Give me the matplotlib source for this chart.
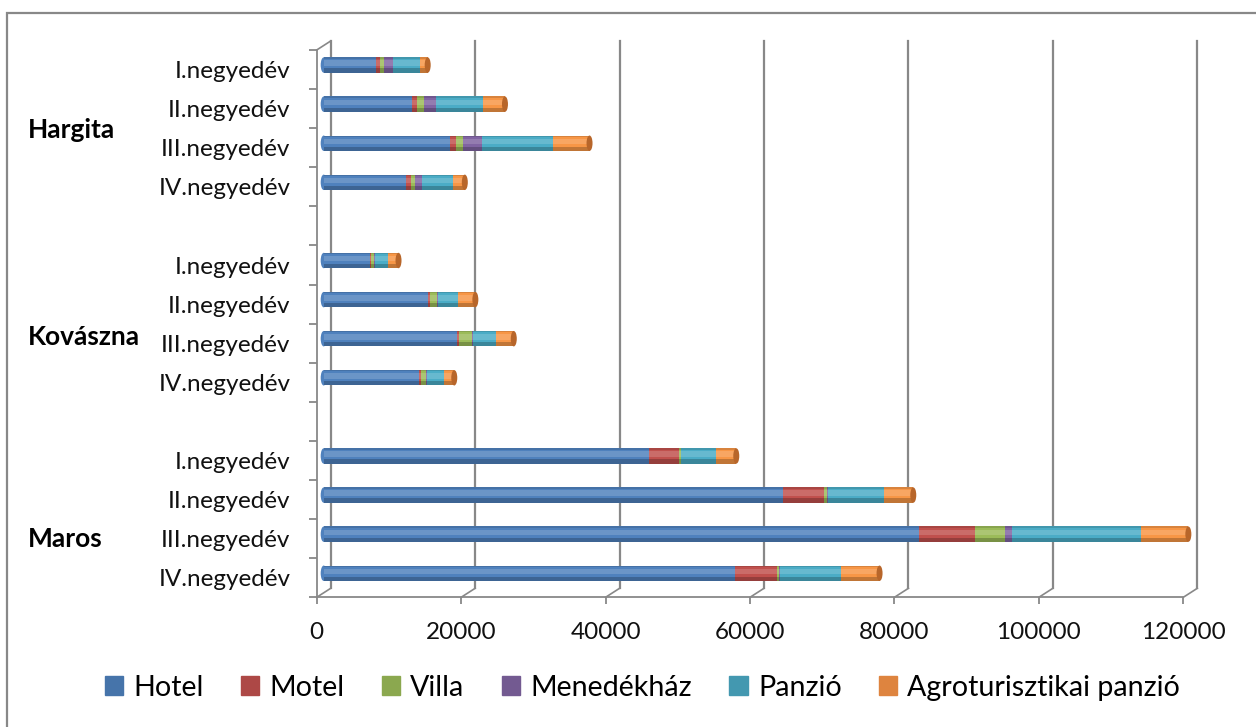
import matplotlib
matplotlib.use('Agg')
import matplotlib.pyplot as plt
import numpy as np
from matplotlib.transforms import ScaledTranslation, blended_transform_factory
from matplotlib.patches import Ellipse, Rectangle
from matplotlib.lines import Line2D

plt.rcParams['font.family'] = ['Lato', 'DejaVu Sans']

regions = ['Hargita', 'Kovászna', 'Maros']
quarters = ['I.negyedév', 'II.negyedév', 'III.negyedév', 'IV.negyedév']
series = ['Hotel', 'Motel', 'Villa', 'Menedékház', 'Panzió', 'Agroturisztikai panzió']
colors = ['#4F81BD', '#C0504D', '#9BBB59', '#8064A2', '#4BACC6', '#F79646']
legend_colors = ['#4674AA', '#AD4846', '#8BA84F', '#735A91', '#4398B0', '#DE843F']

# values in order: Hargita I-IV, Kovászna I-IV, Maros I-IV
hotel      = [7300, 12200, 17550, 11400,   6400, 14450, 18400, 13200,   45000, 63600, 82500, 57000]
motel      = [450,   780,   830,   650,     180,   320,   370,   230,    4240,  5710,  7650,  5760]
villa      = [550,   920,   920,   550,     410,   970,  1700,   780,     180,   370,  4150,   320]
menedekhaz = [1300, 1600,  2670,  1000,      60,   100,   230,    50,      60,   120,  1010,    60]
panzio     = [3800, 6600,  9770,  4330,    1840,  2720,  3090,  2440,    4790,  7830, 17880,  8530]
agro       = [1000, 3000,  5070,  1610,    1470,  2440,  2530,  1380,    2860,  4010,  6540,  5300]
xticks = [0, 20000, 40000, 60000, 80000, 100000, 120000]

data = [hotel, motel, villa, menedekhaz, panzio, agro]

W, H = 1256, 727
fig = plt.figure(figsize=(W / 100, H / 100), dpi=100)
ax = fig.add_axes([316.7 / W, (H - 597.3) / H, (1183.3 - 316.7) / W, (597.3 - 50) / H])
ax.set_xlim(0, 120000)
ax.set_ylim(14, 0)

gray = '#888888'
ypos = []
for r in range(3):
    for q in range(4):
        ypos.append(r * 5 + q + 0.5)
ypos = np.array(ypos)

bar_h = 0.394
bar_tr = ax.transData + ScaledTranslation(0.07, 0.045, fig.dpi_scale_trans)
ell_w = 830

# gridlines (back plane) + diagonals
back_tr = blended_transform_factory(ax.transData, ax.transAxes) + ScaledTranslation(0.14, 0.09, fig.dpi_scale_trans)
bl_tr = blended_transform_factory(ax.transData, ax.transAxes)
for v in xticks:
    ax.add_line(Line2D([v, v], [0, 1], transform=back_tr, color=gray, lw=1.6, zorder=1, clip_on=False))
    p0 = bl_tr.transform((v, 0))
    p1 = back_tr.transform((v, 0))
    ax.add_line(Line2D([p0[0], p1[0]], [p0[1], p1[1]], transform=None, color=gray, lw=1.2, zorder=1, clip_on=False))
p0 = bl_tr.transform((0, 1))
p1 = back_tr.transform((0, 1))
ax.add_line(Line2D([p0[0], p1[0]], [p0[1], p1[1]], transform=None, color=gray, lw=1.2, zorder=1, clip_on=False))

left = np.zeros(12)
totals = np.sum(np.array(data), axis=0)
for i, (vals, c) in enumerate(zip(data, colors)):
    vals = np.array(vals, dtype=float)
    bars = ax.barh(ypos, vals, left=left, height=bar_h, color=c, zorder=3, linewidth=0)
    for b in bars:
        b.set_transform(bar_tr)
        b.set_clip_on(False)
    left = left + vals

# shading overlays
for dy, hh, col, al in [(-0.12, 0.36, 'white', 0.16), (0.36, 0.28, 'black', 0.22), (-0.46, 0.08, 'black', 0.12)]:
    sh = ax.barh(ypos + bar_h * dy, totals, height=bar_h * hh, color=col, alpha=al, zorder=4, linewidth=0)
    for b in sh:
        b.set_transform(bar_tr)
        b.set_clip_on(False)

# end caps
for j in range(12):
    ax.add_patch(Ellipse((0, ypos[j]), ell_w, bar_h, color=colors[0], transform=bar_tr, zorder=2.9,
                         linewidth=0, clip_on=False))
    ax.add_patch(Ellipse((totals[j], ypos[j]), ell_w, bar_h, color='#B8662A', transform=bar_tr, zorder=5,
                         linewidth=0, clip_on=False))

# axes styling
for s in ['top', 'right']:
    ax.spines[s].set_visible(False)
for s in ['left', 'bottom']:
    ax.spines[s].set_color(gray)
    ax.spines[s].set_linewidth(1.3)
ax.set_xticks(xticks)
ax.set_xticklabels([str(v) for v in xticks], fontsize=17.5, color='#111111')
ax.tick_params(axis='x', length=5, width=1.3, color=gray, pad=13)
ax.set_yticks(ypos)
ax.set_yticklabels(quarters * 3, fontsize=17.5, color='#111111')
ax.tick_params(axis='y', which='major', length=0, pad=19)
ax.set_yticks(np.arange(0, 15), minor=True)
ax.tick_params(axis='y', which='minor', length=6, width=1.3, color=gray)

# group labels
group_y = [2.05, 7.35, 12.5]
for name, gy in zip(regions, group_y):
    ax.text(28 / W, gy, name, transform=blended_transform_factory(fig.transFigure, ax.transData),
            fontsize=19, fontweight='bold', va='center', ha='left', color='#000000')

# outer border
fig.add_artist(Rectangle((7 / W, -0.1), 1.2, (H - 13) / H + 0.1, transform=fig.transFigure,
                         fill=False, edgecolor=gray, linewidth=1.6))

handles = [Rectangle((0, 0), 1, 1, color=c) for c in legend_colors]
fig.legend(handles, series, loc='center', bbox_to_anchor=(642.5 / W, (H - 688) / H), ncol=6,
           frameon=False, fontsize=20.6, handlelength=0.65, handleheight=0.65,
           handletextpad=0.35, columnspacing=1.3, borderpad=0)

fig.savefig('out.png', dpi=100)
